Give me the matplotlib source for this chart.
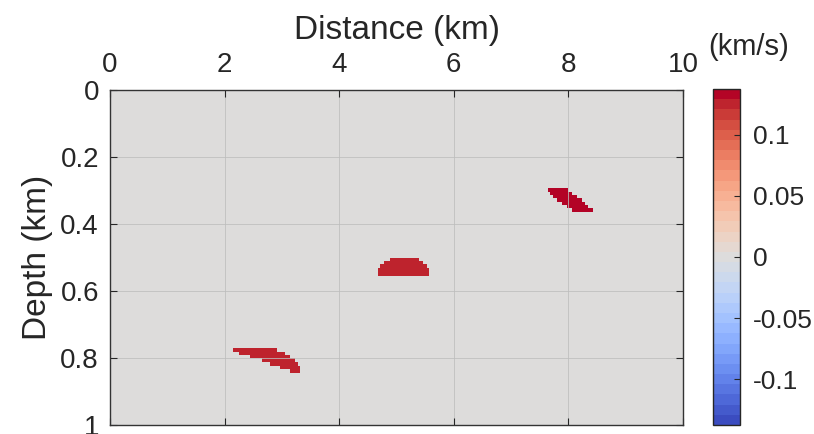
import numpy as np
import matplotlib
matplotlib.use("Agg")
import matplotlib.pyplot as plt
from matplotlib.colors import ListedColormap

plt.rcParams['font.family'] = ['Liberation Sans', 'DejaVu Sans']

# Anomaly bodies: each row = (depth_top, depth_bottom, x_start, x_end) in km
body1_ztop = [0.770, 0.782, 0.791, 0.800, 0.812, 0.824, 0.833]
body1_zbot = [0.782, 0.791, 0.800, 0.812, 0.824, 0.833, 0.845]
body1_x0 = [2.15, 2.25, 2.44, 2.65, 2.79, 2.97, 3.14]
body1_x1 = [2.91, 3.05, 3.14, 3.23, 3.28, 3.32, 3.32]
body1_val = 0.125

body2_ztop = [0.501, 0.510, 0.519, 0.531]
body2_zbot = [0.510, 0.519, 0.531, 0.555]
body2_x0 = [4.89, 4.78, 4.71, 4.68]
body2_x1 = [5.39, 5.46, 5.53, 5.57]
body2_val = 0.125

body3_ztop = [0.293, 0.304, 0.313, 0.322, 0.334, 0.343, 0.352]
body3_zbot = [0.304, 0.313, 0.322, 0.334, 0.343, 0.352, 0.364]
body3_x0 = [7.64, 7.68, 7.73, 7.80, 7.89, 7.98, 8.06]
body3_x1 = [7.99, 8.06, 8.15, 8.24, 8.29, 8.34, 8.43]
body3_val = 0.137

cmax = 0.1377
cbar_ticks = [-0.1, -0.05, 0, 0.05, 0.1]
cbar_ticklabels = ['-0.1', '-0.05', '0', '0.05', '0.1']
x_ticks = [0, 2, 4, 6, 8, 10]
z_ticks = [0, 0.2, 0.4, 0.6, 0.8, 1]
z_ticklabels = ['0', '0.2', '0.4', '0.6', '0.8', '1']

# model grid (one cell per output pixel)
nx, nz = 573, 335
xc = (np.arange(nx) + 0.5) * 10.0 / nx
zc = (np.arange(nz) + 0.5) * 1.0 / nz
field = np.zeros((nz, nx))
for zt, zb, x0, x1, v in [
    (body1_ztop, body1_zbot, body1_x0, body1_x1, body1_val),
    (body2_ztop, body2_zbot, body2_x0, body2_x1, body2_val),
    (body3_ztop, body3_zbot, body3_x0, body3_x1, body3_val),
]:
    for a, b, c, d in zip(zt, zb, x0, x1):
        zm = (zc >= a) & (zc < b)
        xm = (xc >= c) & (xc < d)
        field[np.ix_(zm, xm)] = v

cmap = ListedColormap(plt.get_cmap('coolwarm')(np.linspace(0, 1, 33)))

W, H = 814, 434
fig = plt.figure(figsize=(W / 100, H / 100), dpi=100)
ax = fig.add_axes([110 / W, 1 - 425 / H, (683 - 110) / W, (425 - 90) / H])
im = ax.imshow(field, cmap=cmap, vmin=-cmax, vmax=cmax, extent=[0, 10, 1, 0],
               aspect='auto', interpolation='nearest', zorder=1)
ax.set_xlim(0, 10)
ax.set_ylim(1, 0)
ax.set_xticks(x_ticks)
ax.set_yticks(z_ticks)
ax.set_yticklabels(z_ticklabels)
ax.xaxis.tick_top()
ax.xaxis.set_label_position('top')
ax.tick_params(axis='both', which='both', direction='in', length=5, width=0.8,
               labelsize=20, colors='#262626', top=True, bottom=True, left=True, right=True,
               labeltop=True, labelbottom=False)
ax.tick_params(axis='x', pad=9)
ax.tick_params(axis='y', pad=8)
ax.set_xlabel('Distance (km)', fontsize=24, color='#262626', labelpad=9)
ax.set_ylabel('Depth (km)', fontsize=24, color='#262626', labelpad=5)
ax.grid(True, color='#bdbdbd', linewidth=0.7, alpha=0.8)
ax.set_axisbelow(False)
for s in ax.spines.values():
    s.set_color('#333333')
    s.set_linewidth(1.0)
    s.set_zorder(5)

cax = fig.add_axes([713 / W, 1 - 425 / H, 27 / W, (425 - 89) / H])
cb = fig.colorbar(im, cax=cax, ticks=cbar_ticks)
cb.ax.set_yticklabels(cbar_ticklabels)
cb.ax.tick_params(direction='in', length=4, width=0.8, labelsize=19, colors='#262626', pad=9)
cb.outline.set_edgecolor('#262626')
cb.outline.set_linewidth(1.0)
fig.text(749 / W, 1 - 47 / H, '(km/s)', fontsize=21, color='#262626', ha='center', va='center')

fig.savefig('out.png', dpi=100)
